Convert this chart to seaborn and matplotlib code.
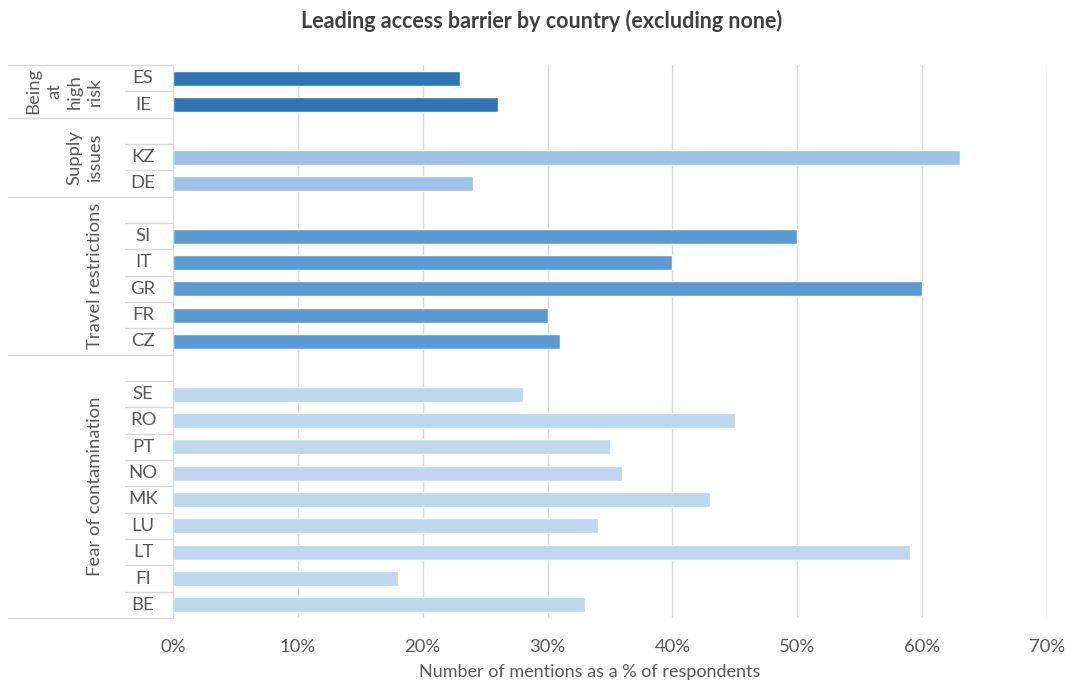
import numpy as np
import pandas as pd
import seaborn as sns
import matplotlib.pyplot as plt
from matplotlib.ticker import PercentFormatter

# groups top -> bottom, each with its countries and values (% of respondents)
groups = ["Being\nat\nhigh\nrisk", "Supply\nissues", "Travel restrictions", "Fear of contamination"]
g_risk = ["ES", "IE"]
v_risk = [23, 26]
g_supply = ["KZ", "DE"]
v_supply = [63, 24]
g_travel = ["SI", "IT", "GR", "FR", "CZ"]
v_travel = [50, 40, 60, 30, 31]
g_fear = ["SE", "RO", "PT", "NO", "MK", "LU", "LT", "FI", "BE"]
v_fear = [28, 45, 35, 36, 43, 34, 59, 18, 33]
colors = ["#2E75B6", "#9DC3E6", "#5B9BD5", "#BDD7EE"]

country_lists = [g_risk, g_supply, g_travel, g_fear]
value_lists = [v_risk, v_supply, v_travel, v_fear]

# build rows, with an empty spacer row on top of every group but the first
rows = []
for i, (grp, cs, vs) in enumerate(zip(groups, country_lists, value_lists)):
    if i > 0:
        rows.append({"row": f"_blank{i}", "label": "", "value": np.nan, "group": grp})
    for c, v in zip(cs, vs):
        rows.append({"row": c, "label": c, "value": v / 100, "group": grp})
df = pd.DataFrame(rows)
order = list(df["row"])

sns.set_style("white")
plt.rcParams["font.family"] = ["Lato", "DejaVu Sans"]
txt = "#595959"
fs = 13.3

fig = plt.figure(figsize=(10.66, 6.82), dpi=100)
ax = fig.add_axes([173 / 1066, 1 - 618 / 682, 874 / 1066, 553 / 682])

sns.barplot(data=df, x="value", y="row", hue="group", order=order,
            hue_order=groups, palette=colors, saturation=1, dodge=False,
            orient="h", width=0.57, legend=False, ax=ax)

ax.set_xlim(0, 0.7)
ax.set_ylim(len(order) - 0.5, -0.5)
ax.set_xticks(np.arange(0, 0.71, 0.1))
ax.xaxis.set_major_formatter(PercentFormatter(1.0, decimals=0))
ax.grid(axis="x", color="#D9D9D9", linewidth=1)
ax.set_axisbelow(True)
for s in ["top", "right", "bottom"]:
    ax.spines[s].set_visible(False)
ax.spines["left"].set_color("#D9D9D9")
ax.tick_params(axis="x", length=0, pad=15, labelsize=fs, labelcolor=txt)
ax.tick_params(axis="y", length=0)
ax.set_yticklabels([])
ax.set_ylabel("")
ax.set_xlabel("")

# title and axis title sit where the reference puts them (figure coords)
fig.text(542 / 1066, 1 - 21 / 682, "Leading access barrier by country (excluding none)",
         ha="center", va="center", fontsize=15.5, fontweight="bold", color="#404040")
fig.text(590 / 1066, 1 - 672 / 682, "Number of mentions as a % of respondents",
         ha="center", va="center", fontsize=13, color=txt)

# category table on the left
tr = ax.get_yaxis_transform()
w = 874.0
x_lab = (143 - 173) / w
x_short = (125 - 173) / w
x_long = (8 - 173) / w
x_grp = (103 - 173) / w
line_kw = dict(color="#D9D9D9", linewidth=1, transform=tr, clip_on=False)

for i, r in enumerate(df.itertuples()):
    if r.label:
        ax.text(x_lab, i, r.label, transform=tr, ha="center", va="center",
                fontsize=fs, color=txt)

# separators
ax.plot([x_long, 0], [-0.5, -0.5], **line_kw)
start = 0
for gi, grp in enumerate(groups):
    n = int((df["group"] == grp).sum())
    end = start + n
    for k in range(start + 1, end):
        ax.plot([x_short, 0], [k - 0.5, k - 0.5], **line_kw)
    ax.plot([x_long, 0], [end - 0.5, end - 0.5], **line_kw)
    ax.text(x_grp, (start + end - 1) / 2, grp, transform=tr, rotation=90,
            ha="right", va="center", multialignment="center",
            linespacing=1.35, fontsize=fs, color=txt)
    start = end

fig.savefig("out.png", dpi=100)
